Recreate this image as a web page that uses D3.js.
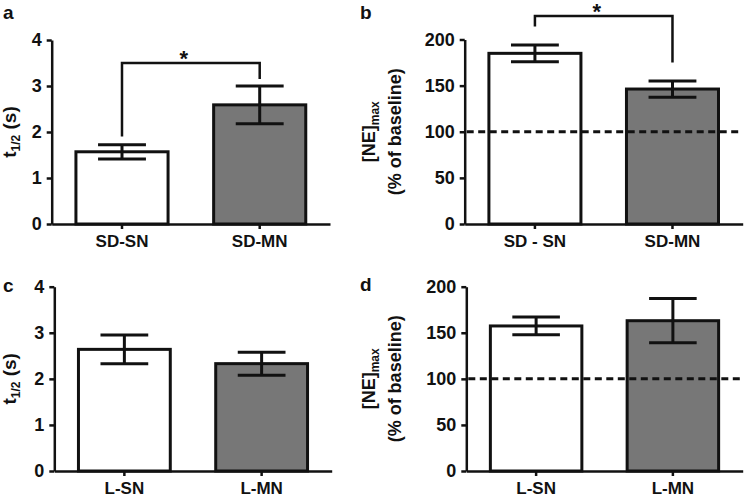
<!DOCTYPE html>
<html><head><meta charset="utf-8">
<script src="https://cdn.jsdelivr.net/npm/d3@7"></script>
<style>body{margin:0;background:#fff}</style>
</head><body><svg id="chart" width="746" height="498"></svg>
<script>
// ---- data ----
const catsA = ["SD-SN", "SD-MN"];
const meanA = [1.57, 2.59];
const errA = [0.155, 0.41];
const catsB = ["SD - SN", "SD-MN"];
const meanB = [185, 146.3];
const errB = [9, 8.8];
const catsC = ["L-SN", "L-MN"];
const meanC = [2.64, 2.33];
const errC = [0.31, 0.25];
const catsD = ["L-SN", "L-MN"];
const meanD = [157.4, 163.1];
const errD = [9.6, 24];
const ticksT = [0, 1, 2, 3, 4];
const ticksNE = [0, 50, 100, 150, 200];
const baselineNE = 100;
// significance brackets: [top, left leg end, right leg end] in data units
const bracketA = [3.5, 1.9, 3.15];
const bracketB = [225.5, 214, 175];
const panelLetters = ["a", "b", "c", "d"];

const fills = ["#ffffff", "#777777"];
const FONT = "'Liberation Sans', Arial, Helvetica, sans-serif";
const INK = "#111";

const svg = d3.select("#chart").style("font-family", FONT);

function drawPanel(cfg) {
  const g = svg.append("g");
  const x = d3.scaleBand().domain(cfg.cats).range([cfg.x0, cfg.x1])
    .paddingInner(0.331).paddingOuter(0.176);
  const y = d3.scaleLinear().domain([0, d3.max(cfg.ticks)]).range([cfg.y1, cfg.y0]);
  const rows = cfg.cats.map((c, i) => ({c, m: cfg.means[i], e: cfg.errs[i], i}));

  // bars
  g.selectAll("rect.bar").data(rows).join("rect")
    .attr("x", d => x(d.c)).attr("width", x.bandwidth())
    .attr("y", d => y(d.m)).attr("height", d => y(0) - y(d.m))
    .attr("fill", d => fills[d.i]).attr("stroke", INK).attr("stroke-width", 3);

  // error bars
  const capW = x.bandwidth() * 0.52;
  const eb = g.selectAll("g.eb").data(rows).join("g")
    .attr("stroke", INK).attr("stroke-width", 3);
  eb.append("line")
    .attr("x1", d => x(d.c) + x.bandwidth() / 2).attr("x2", d => x(d.c) + x.bandwidth() / 2)
    .attr("y1", d => y(d.m - d.e)).attr("y2", d => y(d.m + d.e));
  [-1, 1].forEach(s => {
    eb.append("line")
      .attr("x1", d => x(d.c) + x.bandwidth() / 2 - capW / 2)
      .attr("x2", d => x(d.c) + x.bandwidth() / 2 + capW / 2)
      .attr("y1", d => y(d.m + s * d.e)).attr("y2", d => y(d.m + s * d.e));
  });

  // baseline dashed
  if (cfg.baseline !== undefined) {
    g.append("line").attr("x1", cfg.x0 + 2).attr("x2", cfg.x1)
      .attr("y1", y(cfg.baseline)).attr("y2", y(cfg.baseline))
      .attr("stroke", INK).attr("stroke-width", 3).attr("stroke-dasharray", "7,4.5");
  }

  // axes
  const ya = g.append("g").attr("transform", `translate(${cfg.x0},0)`)
    .call(d3.axisLeft(y).tickValues(cfg.ticks).tickSize(5).tickSizeOuter(0).tickPadding(5).tickFormat(d3.format("d")));
  const xa = g.append("g").attr("transform", `translate(0,${cfg.y1})`)
    .call(d3.axisBottom(x).tickSize(5).tickSizeOuter(0).tickPadding(6));
  [ya, xa].forEach(a => {
    a.selectAll("path,line").attr("stroke", INK).attr("stroke-width", 2.5);
    a.selectAll("text").attr("fill", INK).style("font-family", FONT).style("font-weight", "bold");
  });
  ya.selectAll("text").style("font-size", "18px");
  xa.selectAll("text").style("font-size", "17px");

  // bracket
  if (cfg.bracket) {
    const [top, lEnd, rEnd] = cfg.bracket;
    const cx0 = x(cfg.cats[0]) + x.bandwidth() / 2, cx1 = x(cfg.cats[1]) + x.bandwidth() / 2;
    g.append("path")
      .attr("d", `M${cx0},${y(lEnd)}V${y(top)}H${cx1}V${y(rEnd)}`)
      .attr("fill", "none").attr("stroke", INK).attr("stroke-width", 2.5);
    g.append("text").attr("x", (cx0 + cx1) / 2 - 7).attr("y", y(top) + 3)
      .attr("text-anchor", "middle").attr("font-size", 22).attr("font-weight", "bold")
      .attr("fill", INK).text("*");
  }

  // panel letter
  g.append("text").attr("x", cfg.lx).attr("y", cfg.ly)
    .attr("font-size", 19).attr("font-weight", "bold").attr("fill", INK).text(cfg.letter);

  // y title
  const cy = (cfg.y0 + cfg.y1) / 2;
  if (cfg.kind === "t") {
    const t = g.append("text").attr("transform", `translate(${cfg.tx},${cy}) rotate(-90)`)
      .attr("text-anchor", "middle").attr("font-weight", "bold").attr("fill", INK).attr("font-size", 19);
    t.append("tspan").text("t");
    t.append("tspan").attr("font-size", 12).attr("dy", 4).text("1/2");
    t.append("tspan").attr("dy", -4).text(" (s)");
  } else {
    const t1 = g.append("text").attr("transform", `translate(${cfg.tx},${cy}) rotate(-90)`)
      .attr("text-anchor", "middle").attr("font-weight", "bold").attr("fill", INK).attr("font-size", 18);
    t1.append("tspan").text("[NE]");
    t1.append("tspan").attr("font-size", 12).attr("dy", 4).text("max");
    g.append("text").attr("transform", `translate(${cfg.tx + 26},${cy}) rotate(-90)`)
      .attr("text-anchor", "middle").attr("font-weight", "bold").attr("fill", INK).attr("font-size", 18)
      .text("(% of baseline)");
  }
}

drawPanel({cats: catsA, means: meanA, errs: errA, ticks: ticksT, x0: 51.7, x1: 330, y0: 40, y1: 224,
  bracket: bracketA, letter: panelLetters[0], lx: 3, ly: 18.5, kind: "t", tx: 16});
drawPanel({cats: catsB, means: meanB, errs: errB, ticks: ticksNE, x0: 464.7, x1: 742.7, y0: 39.5, y1: 224,
  bracket: bracketB, baseline: baselineNE, letter: panelLetters[1], lx: 360, ly: 18.5, kind: "ne", tx: 375});
drawPanel({cats: catsC, means: meanC, errs: errC, ticks: ticksT, x0: 54.3, x1: 331.7, y0: 286.7, y1: 471,
  letter: panelLetters[2], lx: 3, ly: 292, kind: "t", tx: 16});
drawPanel({cats: catsD, means: meanD, errs: errD, ticks: ticksNE, x0: 466.3, x1: 742.7, y0: 286.7, y1: 471,
  baseline: baselineNE, letter: panelLetters[3], lx: 360, ly: 291, kind: "ne", tx: 375});
</script>
</body></html>
